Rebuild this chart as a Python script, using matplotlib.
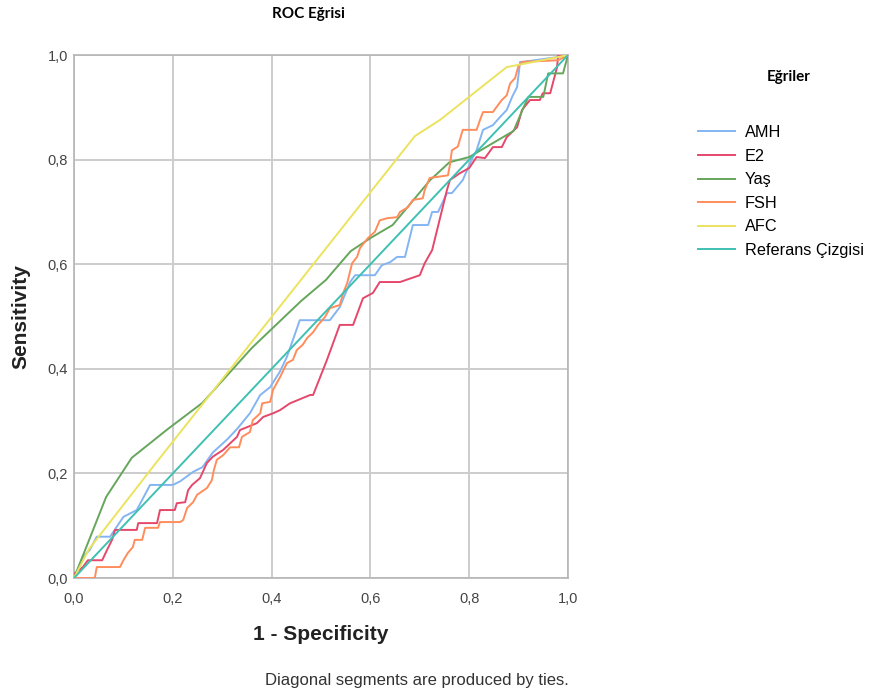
import matplotlib
matplotlib.use('Agg')
import matplotlib.pyplot as plt

# ROC curve points (1 - specificity, sensitivity)
amh_x = [0, 0.018, 0.032, 0.046, 0.073, 0.10, 0.127, 0.154, 0.20, 0.215, 0.241, 0.26, 0.281, 0.31, 0.33,
         0.356, 0.377, 0.397, 0.417, 0.431, 0.443, 0.457, 0.518, 0.538, 0.559, 0.569, 0.609, 0.623, 0.64,
         0.654, 0.67, 0.686, 0.717, 0.725, 0.737, 0.755, 0.765, 0.787, 0.805, 0.815, 0.828, 0.848, 0.862,
         0.876, 0.887, 0.897, 0.903, 0.909, 0.978, 1.0]
amh_y = [0, 0.04, 0.054, 0.079, 0.079, 0.117, 0.13, 0.178, 0.178, 0.185, 0.203, 0.212, 0.24, 0.265, 0.285,
         0.315, 0.35, 0.365, 0.395, 0.423, 0.455, 0.493, 0.493, 0.518, 0.566, 0.579, 0.579, 0.598, 0.604,
         0.614, 0.614, 0.675, 0.675, 0.70, 0.70, 0.736, 0.736, 0.761, 0.80, 0.818, 0.857, 0.866, 0.881,
         0.895, 0.92, 0.939, 0.987, 0.987, 0.996, 1.0]

e2_x = [0, 0.0, 0.018, 0.028, 0.057, 0.067, 0.077, 0.083, 0.127, 0.13, 0.168, 0.174, 0.204, 0.208, 0.225,
        0.231, 0.239, 0.255, 0.269, 0.281, 0.302, 0.33, 0.336, 0.37, 0.383, 0.403, 0.417, 0.437, 0.478,
        0.484, 0.512, 0.538, 0.565, 0.585, 0.605, 0.619, 0.66, 0.70, 0.71, 0.725, 0.755, 0.761, 0.781,
        0.80, 0.815, 0.832, 0.848, 0.866, 0.876, 0.897, 0.907, 0.923, 0.943, 0.949, 0.964, 0.978, 0.98, 1.0]
e2_y = [0, 0.008, 0.021, 0.034, 0.034, 0.054, 0.073, 0.092, 0.092, 0.105, 0.105, 0.13, 0.13, 0.143, 0.145,
        0.168, 0.178, 0.191, 0.22, 0.232, 0.245, 0.27, 0.283, 0.296, 0.308, 0.315, 0.321, 0.334, 0.35,
        0.35, 0.417, 0.484, 0.484, 0.535, 0.545, 0.566, 0.566, 0.579, 0.602, 0.627, 0.742, 0.761, 0.774,
        0.784, 0.805, 0.803, 0.824, 0.824, 0.843, 0.862, 0.895, 0.914, 0.914, 0.927, 0.927, 0.977, 1.0, 1.0]

yas_x = [0, 0.065, 0.117, 0.19, 0.26, 0.36, 0.46, 0.51, 0.56, 0.60, 0.645, 0.72, 0.76, 0.80, 0.89, 0.91,
         0.92, 0.95, 0.96, 0.99, 1.0]
yas_y = [0, 0.155, 0.23, 0.285, 0.335, 0.44, 0.53, 0.57, 0.625, 0.65, 0.675, 0.76, 0.795, 0.805, 0.855, 0.90,
         0.92, 0.92, 0.965, 0.965, 1.0]

fsh_x = [0, 0.042, 0.046, 0.093, 0.10, 0.109, 0.119, 0.123, 0.138, 0.144, 0.17, 0.174, 0.215, 0.221, 0.229,
         0.241, 0.249, 0.269, 0.279, 0.283, 0.289, 0.302, 0.316, 0.334, 0.34, 0.356, 0.362, 0.377, 0.381,
         0.397, 0.403, 0.417, 0.431, 0.443, 0.451, 0.463, 0.472, 0.484, 0.494, 0.508, 0.518, 0.538, 0.545,
         0.553, 0.563, 0.573, 0.579, 0.595, 0.609, 0.619, 0.634, 0.654, 0.66, 0.676, 0.686, 0.706, 0.71,
         0.72, 0.757, 0.761, 0.765, 0.777, 0.787, 0.815, 0.822, 0.828, 0.848, 0.858, 0.866, 0.876, 0.883,
         0.893, 0.899, 0.907, 0.98, 1.0]
fsh_y = [0, 0, 0.021, 0.021, 0.034, 0.048, 0.059, 0.073, 0.073, 0.096, 0.096, 0.107, 0.107, 0.111, 0.134,
         0.145, 0.159, 0.172, 0.187, 0.206, 0.226, 0.235, 0.25, 0.25, 0.27, 0.279, 0.302, 0.315, 0.334,
         0.337, 0.36, 0.384, 0.411, 0.417, 0.436, 0.446, 0.459, 0.47, 0.484, 0.499, 0.516, 0.522, 0.545,
         0.564, 0.602, 0.614, 0.631, 0.65, 0.662, 0.684, 0.688, 0.69, 0.70, 0.709, 0.723, 0.726, 0.742,
         0.765, 0.77, 0.79, 0.818, 0.825, 0.857, 0.857, 0.876, 0.891, 0.891, 0.904, 0.914, 0.923, 0.946,
         0.956, 0.977, 0.987, 0.99, 1.0]

afc_x = [0, 0.03, 0.17, 0.69, 0.741, 0.876, 0.92, 1.0]
afc_y = [0, 0.055, 0.225, 0.845, 0.876, 0.977, 0.985, 1.0]

ref_x = [0, 1]
ref_y = [0, 1]

series = [
    ('AMH', amh_x, amh_y, '#84B5F2'),
    ('E2', e2_x, e2_y, '#E5486B'),
    ('Yaş', yas_x, yas_y, '#66A65C'),
    ('FSH', fsh_x, fsh_y, '#FF8D5C'),
    ('AFC', afc_x, afc_y, '#EBE35E'),
    ('Referans Çizgisi', ref_x, ref_y, '#3EC0B2'),
]
ticks = [0, 0.2, 0.4, 0.6, 0.8, 1.0]
tick_labels = ['0,0', '0,2', '0,4', '0,6', '0,8', '1,0']

plt.rcParams['font.family'] = ['Liberation Sans', 'DejaVu Sans']

fig = plt.figure(figsize=(8.73, 6.97), dpi=100)
ax = fig.add_axes([0.0848, 0.1707, 0.5658, 0.7503])

handles = []
for name, xs, ys, col in series:
    ln, = ax.plot(xs, ys, color=col, linewidth=1.4, label=name, zorder=3)
    handles.append(ln)

ax.set_xlim(0, 1)
ax.set_ylim(0, 1)
ax.set_xticks(ticks)
ax.set_yticks(ticks)
ax.set_xticklabels(tick_labels)
ax.set_yticklabels(tick_labels)
ax.tick_params(labelsize=10.5, colors='#444444', length=0)
ax.tick_params(axis='y', pad=4.5)
ax.tick_params(axis='x', pad=10)
ax.grid(True, color='#cccccc', linewidth=1.4, zorder=0)
for sp in ax.spines.values():
    sp.set_color('#b5b5b5')
    sp.set_linewidth(1.2)

ax.set_xlabel('1 - Specificity', fontsize=15, fontweight='bold', color='#222222', labelpad=14)
ax.set_ylabel('Sensitivity', fontsize=15, fontweight='bold', color='#222222', labelpad=12)

fig.text(308 / 873, 1 - 14 / 697, 'ROC Eğrisi', family='Lato', fontweight='bold', fontsize=11,
         ha='center', va='center')
fig.text(789 / 873, 1 - 77 / 697, 'Eğriler', family='Lato', fontweight='bold', fontsize=11,
         ha='center', va='center')
fig.text(417 / 873, 1 - 681 / 697, 'Diagonal segments are produced by ties.', fontsize=12,
         color='#333333', ha='center', va='center')

fig.legend(handles=handles, loc='upper left', bbox_to_anchor=(698 / 873, 1 - 125 / 697),
           frameon=False, fontsize=11.7, handlelength=2.28, handletextpad=0.6, labelspacing=0.53,
           borderaxespad=0, borderpad=0)

fig.savefig('out.png', dpi=100)
